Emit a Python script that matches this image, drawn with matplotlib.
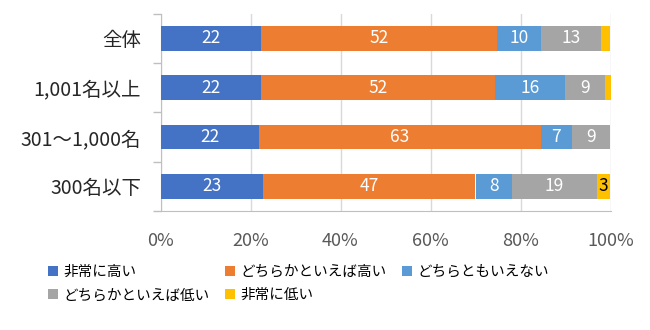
import matplotlib
matplotlib.use("Agg")
import matplotlib.pyplot as plt
from matplotlib.ticker import FixedLocator
import numpy as np

plt.rcParams['font.family'] = ['Noto Sans CJK JP', 'DejaVu Sans']

categories = ['全体', '1,001名以上', '301～1,000名', '300名以下']
series_names = ['非常に高い', 'どちらかといえば高い', 'どちらともいえない',
                'どちらかといえば低い', '非常に低い']
very_high = [22.4, 22.4, 21.8, 22.7]
rather_high = [52.3, 51.9, 62.8, 47.3]
neutral = [9.8, 15.6, 6.8, 8.2]
rather_low = [13.4, 8.8, 8.6, 18.7]
very_low = [2.1, 1.3, 0.0, 3.1]

colors = ['#4472C4', '#ED7D31', '#5B9BD5', '#A5A5A5', '#FFC000']
text_colors = ['white', 'white', 'white', 'white', 'black']

series = [very_high, rather_high, neutral, rather_low, very_low]

fig = plt.figure(figsize=(6.5, 3.3), dpi=100)
ax = fig.add_axes([160.5 / 650, 1 - 211 / 330, 450 / 650, 197.5 / 330])

y = np.arange(len(categories))
left = np.zeros(len(categories))
handles = []
for vals, name, c, tc in zip(series, series_names, colors, text_colors):
    vals = np.array(vals)
    bars = ax.barh(y, vals, left=left, height=0.5, color=c, label=name, zorder=3)
    handles.append(bars)
    for yi, l, v in zip(y, left, vals):
        if round(v) >= 3:
            ax.text(l + v / 2, yi, f'{round(v)}', ha='center', va='center',
                    color=tc, fontsize=12.5, zorder=4)
    left += vals

ax.set_xlim(0, 100)
ax.set_ylim(3.5, -0.5)
ax.set_xticks(np.arange(0, 101, 20))
ax.set_xticklabels([f'{t}%' for t in range(0, 101, 20)], color='#595959', fontsize=13)
ax.tick_params(axis='x', length=0, pad=15)
ax.xaxis.grid(True, color='#D9D9D9', linewidth=1, zorder=0)

ax.set_yticks(y)
ax.set_yticklabels(categories, fontsize=14, color='#262626')
ax.tick_params(axis='y', which='major', length=0, pad=14)
ax.yaxis.set_minor_locator(FixedLocator(np.arange(-0.5, 4, 1)))
ax.tick_params(axis='y', which='minor', length=6, color='#BFBFBF', width=1)

for s in ['top', 'right']:
    ax.spines[s].set_visible(False)
for s in ['left', 'bottom']:
    ax.spines[s].set_color('#BFBFBF')

# row-major legend order for 3 columns
order = [0, 3, 1, 4, 2]
leg = fig.legend([handles[i] for i in order], [series_names[i] for i in order],
                 ncol=3, loc='upper left', bbox_to_anchor=(42 / 650, 1 - 259 / 330),
                 frameon=False, fontsize=10.5, handlelength=0.7, handleheight=0.7,
                 handletextpad=0.4, columnspacing=1.0, labelspacing=0.65,
                 borderaxespad=0.0)

fig.savefig('out.png', dpi=100)
